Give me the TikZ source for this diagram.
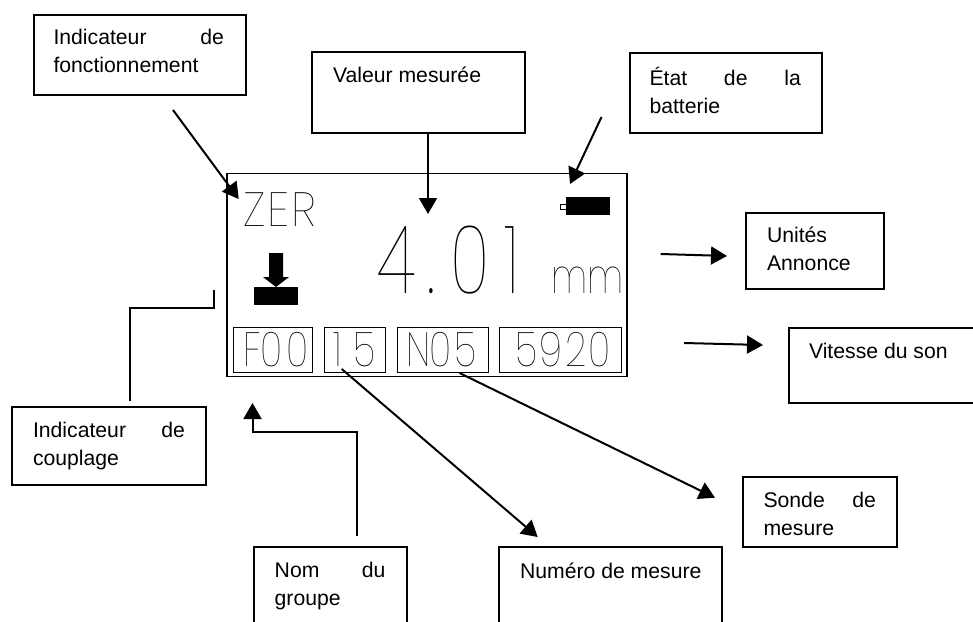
\documentclass[tikz,border=0pt]{standalone}
\usepackage{fontspec}
\usepackage{graphicx}
\setmainfont{Liberation Sans}
\newfontfamily\lcdfont{Poppins}[UprightFont=* Thin]
\usetikzlibrary{arrows.meta}
\tikzset{
  labelbox/.style={draw=black,line width=2pt,inner sep=0pt,anchor=north west,fill=white,font=\fontsize{21.2}{28}\selectfont},
  link/.style={draw=black,line width=2pt},
  linkarrow/.style={link,-{Triangle[length=16pt,width=18pt]}},
  lcdbox/.style={draw=black,line width=1pt,inner sep=0pt},
  lcdtext/.style={inner sep=0pt,anchor=base west}
}
% name, x, y, w, h, left pad, top pad, right pad, text
\newcommand\labelbox[9]{\node[labelbox] (#1) at (#2,#3) {\parbox[t][#5pt][t]{#4pt}{\vspace*{#7pt}\leftskip=#6pt\rightskip=#8pt\parindent=0pt\parfillskip=0pt plus 1fil\relax #9\par}};}
\newcommand\lcd[3]{\scalebox{#1}[1]{\fontsize{#2}{#2}\lcdfont #3}}
\begin{document}
\begin{tikzpicture}[x=1pt,y=-1pt]
\useasboundingbox (0,0) rectangle (973,621);
% display
\draw[lcdbox,line width=1.1pt] (227,173.7) rectangle (627,376.7);
\node[lcdbox,minimum width=79pt,minimum height=45pt,anchor=north west] (fbox) at (233.3,327.3) {};
\node[lcdbox,minimum width=61pt,minimum height=45pt,anchor=north west] (mbox) at (324.3,327.3) {};
\node[lcdbox,minimum width=91pt,minimum height=45pt,anchor=north west] (nbox) at (396.7,327.3) {};
\node[lcdbox,minimum width=122pt,minimum height=45pt,anchor=north west] (vbox) at (499.3,327.3) {};
\node[lcdtext] (zer) at (243,226) {\lcd{.95}{48}{Z\kern2ptE\kern2ptR}};
\node[lcdtext] (val) at (377,293) {\lcd{.7}{95}{4\kern17pt.\kern22pt0\kern21pt1}};
\node[lcdtext] (unit) at (551,293) {\lcd{.75}{48}{mm}};
\node[lcdtext] (ftxt) at (243,366.7) {\lcd{.78}{48}{F\kern-1pt0\kern6pt0}};
\node[lcdtext] (ntxt) at (333,366.7) {\lcd{.78}{48}{1\kern15pt5}};
\node[lcdtext] (ntxt2) at (406,366.7) {\lcd{.78}{48}{N\kern-1pt0\kern4pt5}};
\node[lcdtext] (vtxt) at (515,366.7) {\lcd{.78}{48}{5\kern3pt9\kern3pt2\kern3pt0}};
\fill (254,287) rectangle (298,305);
\fill (269,253) -- (283,253) -- (283,277) -- (289,277) -- (276,287) -- (263,277) -- (269,277) -- cycle;
\fill (566,197) rectangle (610,215);
\draw[line width=.8pt] (566,204) -- (560,204) -- (560,209) -- (566,209);
% labels
\labelbox{fonc}{32.5}{13.5}{212.5}{80.5}{20}{15}{22}{Indicateur\hfill de\\fonctionnement}
\labelbox{valeur}{311}{51}{213}{80.5}{21}{15}{8}{Valeur mesurée}
\labelbox{etat}{628.5}{51.5}{192}{80}{20}{15}{20.7}{État\hfill de\hfill la\\batterie}
\labelbox{unites}{745}{211.5}{137.5}{76}{21}{14}{8}{Unités\\Annonce}
\labelbox{vitesse}{788}{327}{190}{74.5}{20}{15}{8}{Vitesse du son}
\labelbox{sonde}{741.5}{475.7}{154.5}{70.3}{21}{15}{21}{Sonde\hfill de\\mesure}
\labelbox{coupl}{11}{406}{194}{77.5}{21}{15}{21}{Indicateur\hfill de\\couplage}
\labelbox{groupe}{252.7}{545.7}{152.8}{90}{21}{15}{21}{Nom\hfill du\\groupe}
\labelbox{numero}{498}{546}{223}{90}{21}{16}{8}{Numéro de mesure}
% free ends
\coordinate (a1) at (173,110); \coordinate (a2) at (238.7,199);
\coordinate (b2) at (428,214);
\coordinate (c1) at (601.5,117); \coordinate (c2) at (570,184);
\coordinate (d1) at (660.7,254); \coordinate (d2) at (727,256);
\coordinate (e1) at (684,343); \coordinate (e2) at (763,345);
\coordinate (f1) at (130,401); \coordinate (f2) at (214,290);
\coordinate (g1) at (356.5,536); \coordinate (g2) at (252.5,403);
\coordinate (h1) at (341.7,369); \coordinate (h2) at (537.7,537);
\coordinate (i1) at (459.5,373); \coordinate (i2) at (715,497.7);
\draw[linkarrow] (a1) -- (a2);
\draw[linkarrow] (valeur.south -| b2) -- (b2);
\draw[linkarrow] (c1) -- (c2);
\draw[linkarrow] (d1) -- (d2);
\draw[linkarrow] (e1) -- (e2);
\draw[link] (f1) |- (214,307.5) -- (f2);
\draw[linkarrow] (g1) |- (252.5,431.5) -- (g2);
\draw[linkarrow] (h1) -- (h2);
\draw[linkarrow] (i1) -- (i2);
\end{tikzpicture}
\end{document}
